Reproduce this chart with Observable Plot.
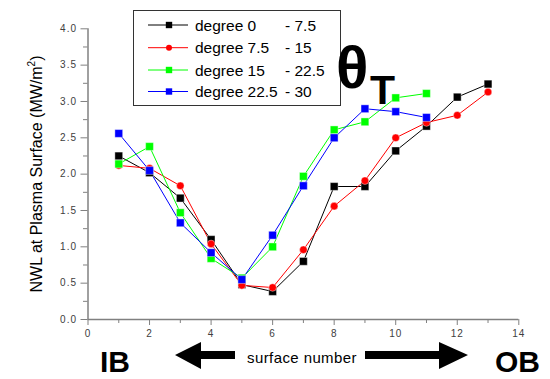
<!DOCTYPE html>
<html>
<head>
<meta charset="utf-8">
<script src="https://cdn.jsdelivr.net/npm/d3@7"></script>
<script src="https://cdn.jsdelivr.net/npm/@observablehq/plot@0.6"></script>
<style>
  html, body { margin: 0; padding: 0; background: #fff; }
  #wrap { position: relative; width: 550px; height: 379px; overflow: hidden; }
  #wrap svg.plot text { letter-spacing: 1px; }
  #overlay { position: absolute; left: 0; top: 0; pointer-events: none; }
</style>
</head>
<body>
<div id="wrap"></div>
<script>
// ---- data ----
const surfaces = [1, 2, 3, 4, 5, 6, 7, 8, 9, 10, 11, 12, 13];
const seriesNames = ["degree 0 - 7.5", "degree 7.5 - 15", "degree 15 - 22.5", "degree 22.5 - 30"];
const legendLeft = ["degree 0", "degree 7.5", "degree 15", "degree 22.5"];
const legendRight = ["- 7.5", "- 15", "- 22.5", "- 30"];
const deg0_75   = [2.25, 2.02, 1.67, 1.10, 0.48, 0.385, 0.80, 1.83, 1.83, 2.32, 2.66, 3.06, 3.24];
const deg75_15  = [2.12, 2.08, 1.84, 1.04, 0.47, 0.44, 0.96, 1.56, 1.91, 2.50, 2.71, 2.81, 3.13];
const deg15_225 = [2.14, 2.38, 1.47, 0.84, 0.57, 1.00, 1.97, 2.61, 2.72, 3.05, 3.11];
const deg225_30 = [2.56, 2.05, 1.33, 0.92, 0.55, 1.16, 1.84, 2.50, 2.90, 2.86, 2.78];
const xTicks = [0, 2, 4, 6, 8, 10, 12, 14];
const xMinorTicks = [1, 3, 5, 7, 9, 11, 13];
const yTicks = [0, 0.5, 1.0, 1.5, 2.0, 2.5, 3.0, 3.5, 4.0];
const yMinorTicks = [0.25, 0.75, 1.25, 1.75, 2.25, 2.75, 3.25, 3.75];

const seriesValues = [deg0_75, deg75_15, deg15_225, deg225_30];
const colors = ["#000000", "#ff0000", "#00ff00", "#0000ff"];
const symbols = ["square", "circle", "square", "square"];
const radii = [4.4, 3.8, 4.4, 4.4];

const rows = [];
seriesValues.forEach((vals, i) => {
  vals.forEach((v, j) => rows.push({surface: surfaces[j], nwl: v, series: seriesNames[i]}));
});

const seriesMarks = [];
seriesNames.forEach((name, i) => {
  const d = rows.filter(r => r.series === name);
  seriesMarks.push(Plot.line(d, {x: "surface", y: "nwl", stroke: colors[i], strokeWidth: 1}));
});
seriesNames.forEach((name, i) => {
  const d = rows.filter(r => r.series === name);
  seriesMarks.push(Plot.dot(d, {x: "surface", y: "nwl", symbol: () => symbols[i], fill: colors[i],
    r: radii[i], stroke: "#ffffff", strokeOpacity: 0.5, strokeWidth: 0.8}));
});

const axisGray = "#808080";
const chart = Plot.plot({
  width: 550,
  height: 379,
  marginLeft: 87.5,
  marginRight: 31.7,
  marginTop: 28.3,
  marginBottom: 60,
  style: {fontFamily: "'Liberation Sans', Arial, sans-serif", fontSize: "10px", color: "#404040", background: "#fff"},
  x: {domain: [0, 14]},
  y: {domain: [0, 4]},
  marks: [
    Plot.axisX({ticks: xTicks, tickSize: 6, tickPadding: 4, stroke: axisGray, label: null, tickFormat: d3.format("d")}),
    Plot.axisX({ticks: xMinorTicks, tickSize: 4, text: null, stroke: axisGray, label: null}),
    Plot.axisY({ticks: yTicks, tickSize: 7, tickPadding: 4, stroke: axisGray, label: null, tickFormat: d3.format(".1f")}),
    Plot.axisY({ticks: yMinorTicks, tickSize: 4.5, text: null, stroke: axisGray, label: null}),
    Plot.ruleX([0], {stroke: axisGray, strokeWidth: 1.5}),
    Plot.ruleY([0], {stroke: axisGray, strokeWidth: 1.5}),
    ...seriesMarks
  ]
});
chart.classList.add("plot");
const wrap = document.getElementById("wrap");
wrap.appendChild(chart);

// ---- overlay annotations ----
const ov = d3.select(wrap).append("svg").attr("id", "overlay")
  .attr("width", 550).attr("height", 379)
  .style("font-family", "'Liberation Sans', Arial, sans-serif");

// y-axis label
const yl = ov.append("text")
  .attr("transform", "translate(41.5,174) rotate(-90)")
  .attr("text-anchor", "middle")
  .attr("font-size", 16)
  .attr("fill", "#000");
yl.append("tspan").text("NWL at Plasma Surface (MW/m");
yl.append("tspan").attr("dy", -7).attr("font-size", 10).text("2");
yl.append("tspan").attr("dy", 7).text(")");

// legend
ov.append("rect").attr("x", 133.5).attr("y", 10.5).attr("width", 207).attr("height", 95)
  .attr("fill", "#fff").attr("stroke", "#333").attr("stroke-width", 1);
const rowY = [25, 47.7, 70, 91.5];
legendLeft.forEach((lab, i) => {
  const y = rowY[i];
  ov.append("line").attr("x1", 148).attr("x2", 188).attr("y1", y).attr("y2", y)
    .attr("stroke", colors[i]).attr("stroke-width", 1);
  const sym = d3.symbol(symbols[i] === "circle" ? d3.symbolCircle : d3.symbolSquare,
    Math.PI * (radii[i] - 0.8) ** 2)();
  ov.append("path").attr("d", sym).attr("transform", `translate(169,${y})`).attr("fill", colors[i]);
  ov.append("text").attr("x", 195).attr("y", y + 5.5).attr("font-size", 15.5).attr("fill", "#000").text(lab);
  ov.append("text").attr("x", 285).attr("y", y + 5.5).attr("font-size", 15.5).attr("fill", "#000").text(legendRight[i]);
});

// theta_T
ov.append("text").attr("x", 336).attr("y", 88).attr("font-size", 60).attr("font-weight", "bold").attr("fill", "#000").text("θ");
ov.append("text").attr("x", 370).attr("y", 104).attr("font-size", 41).attr("font-weight", "bold").attr("fill", "#000").text("T");

// arrows
ov.append("polygon").attr("points", "175,355 201,342 201,351 235,351 235,359 201,359 201,369").attr("fill", "#000");
ov.append("polygon").attr("points", "468,355 439,342 439,351 365,351 365,359 439,359 439,369").attr("fill", "#000");
ov.append("text").attr("x", 302).attr("y", 363).attr("text-anchor", "middle").attr("font-size", 15)
  .attr("letter-spacing", "0.4").attr("fill", "#000").text("surface number");

// IB / OB
ov.append("text").attr("x", 100).attr("y", 372).attr("font-size", 30).attr("font-weight", "bold").attr("fill", "#000").text("IB");
ov.append("text").attr("x", 495).attr("y", 372).attr("font-size", 30).attr("font-weight", "bold").attr("fill", "#000").text("OB");
</script>
</body>
</html>
